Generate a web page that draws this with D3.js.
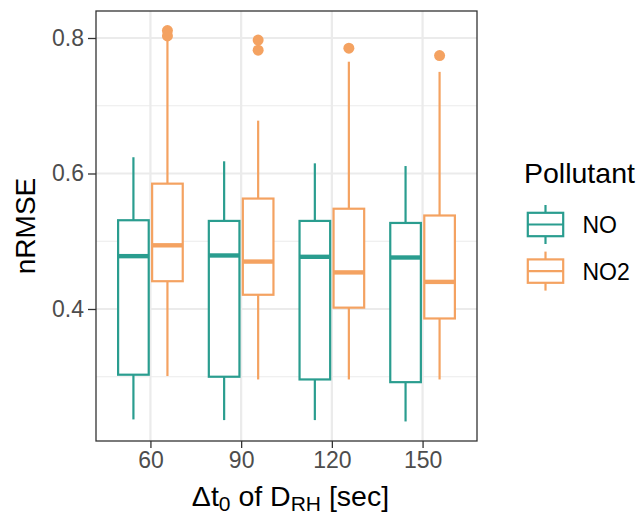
<!DOCTYPE html>
<html>
<head>
<meta charset="utf-8">
<script src="https://cdn.jsdelivr.net/npm/d3@7"></script>
<style>
  body { margin: 0; background: #fff; }
  svg text { font-family: "Liberation Sans", Arial, sans-serif; }
</style>
</head>
<body>
<svg id="chart" width="642" height="514"></svg>
<script>
// Categories
const windows = ["60", "90", "120", "150"];
const pollutants = ["NO", "NO2"];
const colors = ["#2a9d8f", "#f4a261"];

// Box stats per window: [lower whisker, Q1, median, Q3, upper whisker]
const noStats = [
  [0.237, 0.303, 0.478, 0.531, 0.624],
  [0.236, 0.300, 0.479, 0.530, 0.618],
  [0.236, 0.296, 0.477, 0.530, 0.615],
  [0.234, 0.292, 0.476, 0.527, 0.611]
];
const no2Stats = [
  [0.301, 0.441, 0.494, 0.585, 0.799],
  [0.296, 0.421, 0.470, 0.563, 0.678],
  [0.296, 0.402, 0.454, 0.548, 0.765],
  [0.296, 0.386, 0.440, 0.538, 0.750]
];
const noOutliers = [[], [], [], []];
const no2Outliers = [[0.803, 0.811], [0.782, 0.797], [0.785], [0.774]];

const yTicks = [0.4, 0.6, 0.8];
const yMinor = [0.3, 0.5, 0.7];

// Build rows
const boxes = [];
[noStats, no2Stats].forEach((stats, p) => {
  stats.forEach((s, i) => {
    boxes.push({
      window: windows[i], pollutant: pollutants[p],
      lo: s[0], q1: s[1], med: s[2], q3: s[3], hi: s[4],
      out: [noOutliers, no2Outliers][p][i]
    });
  });
});

const svg = d3.select("#chart");
const panel = {left: 96, right: 477, top: 11, bottom: 441};

// Scales
const x = d3.scalePoint()
    .domain(windows)
    .range([panel.left, panel.right])
    .padding(0.6);

const allVals = boxes.flatMap(d => [d.lo, d.hi, ...d.out]);
const [vmin, vmax] = d3.extent(allVals);
const pad = (vmax - vmin) * 0.05;
const y = d3.scaleLinear()
    .domain([vmin - pad, vmax + pad])
    .range([panel.bottom, panel.top]);

const color = d3.scaleOrdinal().domain(pollutants).range(colors);

const step = x.step();
const dodgeW = step * 0.75 / 2;
const boxW = dodgeW * 0.9;
const offset = p => (pollutants.indexOf(p) - 0.5) * dodgeW;

// Panel background
svg.append("rect")
    .attr("x", panel.left).attr("y", panel.top)
    .attr("width", panel.right - panel.left)
    .attr("height", panel.bottom - panel.top)
    .attr("fill", "#fff");

// Grid
const grid = svg.append("g");
grid.selectAll(".minor")
    .data(yMinor)
    .join("line")
    .attr("x1", panel.left).attr("x2", panel.right)
    .attr("y1", d => y(d)).attr("y2", d => y(d))
    .attr("stroke", "#ebebeb").attr("stroke-width", 1.1);
grid.selectAll(".majory")
    .data(yTicks)
    .join("line")
    .attr("x1", panel.left).attr("x2", panel.right)
    .attr("y1", d => y(d)).attr("y2", d => y(d))
    .attr("stroke", "#ebebeb").attr("stroke-width", 2.2);
grid.selectAll(".majorx")
    .data(windows)
    .join("line")
    .attr("x1", d => x(d)).attr("x2", d => x(d))
    .attr("y1", panel.top).attr("y2", panel.bottom)
    .attr("stroke", "#ebebeb").attr("stroke-width", 2.2);

// Boxplots
const g = svg.append("g");
const bx = g.selectAll("g.box")
    .data(boxes)
    .join("g")
    .attr("class", "box")
    .attr("transform", d => `translate(${x(d.window) + offset(d.pollutant)},0)`);

bx.append("line")
    .attr("y1", d => y(d.hi)).attr("y2", d => y(d.q3))
    .attr("stroke", d => color(d.pollutant)).attr("stroke-width", 2.2);
bx.append("line")
    .attr("y1", d => y(d.q1)).attr("y2", d => y(d.lo))
    .attr("stroke", d => color(d.pollutant)).attr("stroke-width", 2.2);
bx.append("rect")
    .attr("x", -boxW / 2).attr("width", boxW)
    .attr("y", d => y(d.q3)).attr("height", d => y(d.q1) - y(d.q3))
    .attr("fill", "#fff")
    .attr("stroke", d => color(d.pollutant)).attr("stroke-width", 2.2);
bx.append("line")
    .attr("x1", -boxW / 2).attr("x2", boxW / 2)
    .attr("y1", d => y(d.med)).attr("y2", d => y(d.med))
    .attr("stroke", d => color(d.pollutant)).attr("stroke-width", 4.4);
bx.selectAll("circle")
    .data(d => d.out.map(v => ({v, p: d.pollutant})))
    .join("circle")
    .attr("cy", d => y(d.v)).attr("r", 5.5)
    .attr("fill", d => color(d.p));

// Panel border
svg.append("rect")
    .attr("x", panel.left).attr("y", panel.top)
    .attr("width", panel.right - panel.left)
    .attr("height", panel.bottom - panel.top)
    .attr("fill", "none").attr("stroke", "#333").attr("stroke-width", 1.3);

// Axes
const yAxis = svg.append("g")
    .attr("transform", `translate(${panel.left},0)`)
    .call(d3.axisLeft(y).tickValues(yTicks).tickFormat(d3.format(".1f")).tickSize(8).tickPadding(4));
const xAxis = svg.append("g")
    .attr("transform", `translate(0,${panel.bottom})`)
    .call(d3.axisBottom(x).tickSize(7).tickPadding(4));
[yAxis, xAxis].forEach(a => {
  a.select(".domain").remove();
  a.selectAll(".tick line").attr("stroke", "#333").attr("stroke-width", 1.3);
  a.selectAll(".tick text")
      .attr("fill", "#4d4d4d")
      .style("font-size", "23px")
      .style("font-family", "Liberation Sans, Arial, sans-serif");
});

// Axis titles
svg.append("text")
    .attr("transform", `translate(35,${(panel.top + panel.bottom) / 2}) rotate(-90)`)
    .attr("text-anchor", "middle")
    .style("font-size", "28px")
    .text("nRMSE");

const xt = svg.append("text")
    .attr("x", (panel.left + panel.right) / 2 + 4)
    .attr("y", 506)
    .attr("text-anchor", "middle")
    .style("font-size", "28.5px");
xt.append("tspan").text("\u0394t");
xt.append("tspan").attr("dy", 4.5).style("font-size", "21px").text("0");
xt.append("tspan").attr("dy", -4.5).text(" of D");
xt.append("tspan").attr("dy", 4.5).style("font-size", "21px").text("RH");
xt.append("tspan").attr("dy", -4.5).text(" [sec]");

// Legend
const legend = svg.append("g");
legend.append("text")
    .attr("x", 524).attr("y", 183)
    .style("font-size", "28.5px")
    .text("Pollutant");

const keyH = 46.6;
const key = legend.selectAll("g.key")
    .data(pollutants)
    .join("g")
    .attr("class", "key")
    .attr("transform", (d, i) => `translate(545.5,${224.5 + i * keyH})`);

key.append("line")
    .attr("y1", -19.5).attr("y2", 19.5)
    .attr("stroke", d => color(d)).attr("stroke-width", 2.2);
key.append("rect")
    .attr("x", -17.7).attr("y", -11.7)
    .attr("width", 35.4).attr("height", 23.4)
    .attr("fill", "#fff")
    .attr("stroke", d => color(d)).attr("stroke-width", 2.2);
key.append("line")
    .attr("x1", -17.7).attr("x2", 17.7)
    .attr("stroke", d => color(d)).attr("stroke-width", 2.2);
key.append("text")
    .attr("x", 37).attr("y", 8.5)
    .style("font-size", "23px")
    .text(d => d);
</script>
</body>
</html>
